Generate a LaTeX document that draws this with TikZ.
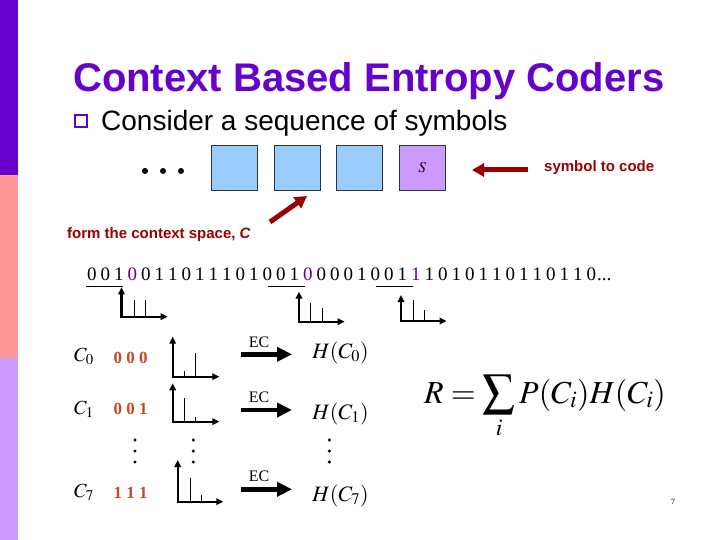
\documentclass[tikz,border=0pt]{standalone}
\usepackage{mathptmx}
\usepackage[no-math]{fontspec}
\setmainfont{Liberation Serif}
\newfontfamily\arial{Liberation Sans}
\usepackage{graphicx}
\usetikzlibrary{arrows.meta}
\definecolor{titlepurple}{HTML}{6600CC}
\definecolor{barpink}{HTML}{FF9999}
\definecolor{barlav}{HTML}{CC99FF}
\definecolor{boxblue}{HTML}{99CCFF}
\definecolor{darkred}{HTML}{990000}
\definecolor{ctxbrown}{HTML}{C04A28}
\definecolor{digpurple}{HTML}{660099}
\colorlet{dk}{black}
\colorlet{dp}{digpurple}
\newcommand\myhist[7]{% origin x, origin y, top y, end x, bar1 top, bar2 top, bar offset base
  \draw[line width=0.9] (#1+#7,#2) -- (#1+#7,#5);
  \draw[line width=0.9] (#1+#7+11.5,#2) -- (#1+#7+11.5,#6);
  \draw[line width=2.2, {Triangle[length=7pt,width=6.5pt]}-{Triangle[length=7pt,width=6.5pt]}]
    (#1,#3) -- (#1,#2) -- (#4,#2);
}
\begin{document}
\begin{tikzpicture}[x=1pt,y=-1pt,
  symbox/.style={draw=black!80, line width=0.8, minimum width=46pt, minimum height=45pt, inner sep=0},
  digit/.style={anchor=base, inner sep=0, font=\fontsize{19}{22}\selectfont},
  ctx/.style={inner sep=0, text=ctxbrown, font=\bfseries\fontsize{17}{20}\selectfont},
  clab/.style={inner sep=0, font=\fontsize{20}{24}\selectfont},
  hlab/.style={inner sep=0, font=\fontsize{22}{26}\selectfont},
  eclab/.style={inner sep=0, font=\fontsize{16}{19}\selectfont},
  ecarrow/.style={line width=4.5, -{Triangle[length=15pt,width=14pt]}},
  redarrow/.style={draw=darkred, line width=5, -{Triangle[length=12pt,width=13pt]}},
  vdot/.style={fill=black}
]
\useasboundingbox (0,0) rectangle (720,540);
\fill[white] (0,0) rectangle (720,540);
\fill[titlepurple] (0,0) rectangle (18,175);
\fill[barpink] (0,175) rectangle (18,358);
\fill[barlav] (0,358) rectangle (18,540);

\node[anchor=base west, inner sep=0, text=titlepurple, font=\arial\bfseries\fontsize{40}{48}\selectfont] (title) at (73,92) {Context Based Entropy Coders};
\node[draw=titlepurple, line width=2.4, minimum size=12pt, inner sep=0] (bullet) at (81,121) {};
\node[anchor=base west, inner sep=0, font=\arial\fontsize{28}{33}\selectfont] (consider) at (101,131) {Consider a sequence of symbols};

\foreach \x in {145,163,181} \fill (\x,171) circle (3);
\node[symbox, fill=boxblue] (b1) at (234.7,167.5) {};
\node[symbox, fill=boxblue] (b2) at (297.3,167.5) {};
\node[symbox, fill=boxblue] (b3) at (359.7,167.5) {};
\node[symbox, fill=barlav, font=\fontsize{15}{18}\selectfont] (b4) at (422.2,167.5) {$S$};

\node[anchor=base west, inner sep=0, text=darkred, font=\arial\bfseries\fontsize{15}{18}\selectfont] (sym) at (544,172) {symbol to code};
\coordinate (stail) at (528,170);
\coordinate (shead) at (472,170);
\draw[redarrow] (stail) -- (shead);

\node[anchor=base west, inner sep=0, text=darkred, font=\arial\bfseries\fontsize{15}{18}\selectfont] (form) at (67,238) {form the context space, \textit{C}};
\coordinate (ftail) at (270,222);
\coordinate (fhead) at (307,196);
\draw[redarrow] (ftail) -- (fhead);

\foreach \d/\c [count=\i from 0] in {0/dk,0/dk,1/dk,0/dp,0/dk,1/dk,1/dk,0/dk,1/dk,1/dk,1/dk,0/dk,1/dk,0/dk,0/dk,1/dk,0/dp,0/dk,0/dk,0/dk,1/dk,0/dk,0/dk,1/dk,1/dp,1/dk,0/dk,1/dk,0/dk,1/dk,1/dk,0/dk,1/dk,1/dk,0/dk,1/dk,1/dk,0/dk}
  \node[digit, text=\c] (d\i) at ({91.8+13.5*\i},280) {\d};
\node[digit, anchor=base west] (ell) at (597,280) {...};

\draw[line width=1] (86,286) -- (123,286);
\draw[line width=1] (268,286) -- (305,286);
\draw[line width=1] (376,286) -- (413,286);
\myhist{121.5}{316.7}{287.3}{167.7}{300}{300}{12.5}
\myhist{299}{321.7}{291.7}{344.6}{302.7}{308.3}{11.8}
\myhist{401}{321}{295}{446.5}{300}{310}{12}

\node[clab] (c0) at (84,356) {$C_0$};
\node[clab] (c1) at (84,409) {$C_1$};
\node[clab] (c7) at (84,492) {$C_7$};
\node[ctx] (x0) at (130.5,358) {0 0 0};
\node[ctx] (x1) at (130.5,409) {0 0 1};
\node[ctx] (x7) at (130.5,493) {1 1 1};

\myhist{172.7}{376.7}{336.7}{219.3}{370.7}{353.3}{11.6}
\myhist{172.7}{421.7}{383.3}{219.3}{398.3}{416.7}{11.6}
\myhist{177.7}{501.7}{460}{223.3}{478.3}{495}{12.3}

\node[eclab] (ec0) at (259,342) {EC};
\node[eclab] (ec1) at (259,397) {EC};
\node[eclab] (ec7) at (259,476) {EC};
\coordinate (a0s) at (241,354.3); \coordinate (a0e) at (292,354.3);
\coordinate (a1s) at (241,410); \coordinate (a1e) at (292,410);
\coordinate (a7s) at (241,489.3); \coordinate (a7e) at (292,489.3);
\draw[ecarrow] (a0s) -- (a0e);
\draw[ecarrow] (a1s) -- (a1e);
\draw[ecarrow] (a7s) -- (a7e);

\node[hlab] (h0) at (340.5,353) {$H(C_0)$};
\node[hlab] (h1) at (340.5,414) {$H(C_1)$};
\node[hlab] (h7) at (340.5,496) {$H(C_7)$};

\foreach \x in {135,193.3,329.3}
  \foreach \y in {440,451,462}
    \fill (\x,\y) circle (1.7);

\node[anchor=base west, inner sep=0, font=\fontsize{32}{38}\selectfont] (formula) at (424,403) {$\displaystyle R=\sum_i P(C_i)H(C_i)$};

\node[inner sep=0, font=\fontsize{8}{9}\selectfont] (page) at (673,502) {7};
\end{tikzpicture}
\end{document}
